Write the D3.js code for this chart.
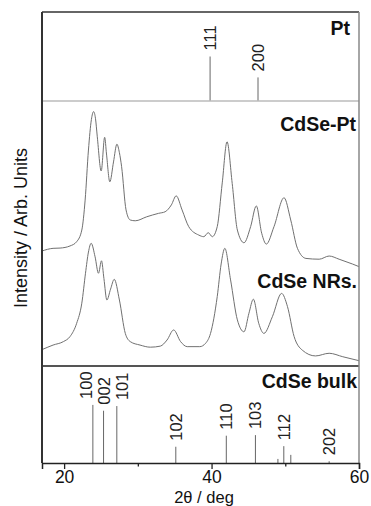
<!DOCTYPE html>
<html>
<head>
<meta charset="utf-8">
<script src="https://cdn.jsdelivr.net/npm/d3@7"></script>
<style>
  body { margin: 0; background: #fff; }
  text { font-family: "Liberation Sans", Arial, sans-serif; }
</style>
</head>
<body>
<div id="chart"></div>
<script>
// XRD patterns: Pt reference, CdSe-Pt, CdSe NRs, CdSe bulk reference

// Pt reference lines
const ptPos = [39.8, 46.3];
const ptInt = [100, 53];
const ptHkl = ["111", "200"];

// CdSe bulk reference lines ("" = no label)
const bulkPos = [23.9, 25.35, 27.15, 35.15, 42.0, 45.95, 49.0, 49.8, 50.75, 55.95];
const bulkInt = [100, 90, 98, 28, 47, 48, 7, 29, 14, 3];
const bulkHkl = ["100", "002", "101", "102", "110", "103", "", "112", "", "202"];

// CdSe-Pt pattern (offset curve, arb. units)
const cdsePtX = [17.0, 18.5, 19.45, 20.8, 21.7, 22.4, 22.85, 23.3, 23.7, 24.0, 24.25, 24.5, 25.03, 25.5, 25.75, 26.2,
  26.7, 27.16, 27.5, 27.8, 28.4, 28.97, 29.65, 31.2, 32.8, 33.7, 34.55, 35.2, 36.0, 36.9, 38.27, 38.95, 39.55,
  40.1, 40.77, 41.45, 42.1, 42.8, 43.5, 44.4, 45.3, 46.07, 46.8, 47.43, 48.47, 49.83, 50.74, 51.65, 52.8, 54.6,
  55.95, 57.3, 59.1, 60.0];
const cdsePtY = [43.4, 44.4, 44.5, 45.3, 46.9, 51.3, 62.6, 81.5, 93.0, 96.0, 93.5, 86.5, 73.6, 86.3, 80.0, 69.5,
  77.0, 83.7, 80.5, 75.2, 58.9, 55.1, 54.8, 56.3, 57.6, 58.2, 60.8, 64.2, 58.9, 52.6, 49.4, 48.8, 50.3,
  48.8, 52.6, 69.1, 84.6, 68.9, 51.3, 46.5, 52.6, 60.4, 50.1, 46.0, 52.6, 63.5, 55.1, 44.4, 40.6, 40.3,
  41.5, 40.3, 38.5, 37.5];

// CdSe NRs pattern
const nrsX = [17.1, 18.5, 19.9, 20.8, 21.7, 22.4, 22.9, 23.3, 23.67, 24.2, 24.66, 25.07, 25.4, 25.8, 26.3, 26.8,
  27.5, 28.3, 28.97, 30.3, 31.7, 33.05, 33.96, 34.86, 35.8, 36.7, 38.4, 39.2, 39.86, 40.77, 41.3, 41.8, 42.58,
  43.5, 44.4, 45.07, 45.67, 46.4, 47.1, 48.25, 49.5, 50.3, 51.2, 52.3, 54.1, 55.95, 57.8, 60.0];
const nrsY = [6.3, 7.9, 9.2, 11.1, 16.1, 23.7, 35.0, 43.0, 46.3, 41.2, 35.0, 39.7, 33.0, 24.9, 29.0, 32.7,
  24.9, 12.3, 9.2, 7.9, 7.1, 7.5, 9.8, 13.6, 9.2, 7.3, 7.3, 8.6, 12.3, 26.2, 38.5, 44.4, 32.5,
  17.4, 12.9, 19.9, 25.2, 16.1, 12.3, 18.6, 27.4, 22.4, 11.1, 6.0, 3.8, 4.8, 3.5, 2.0];

const xTicks = [20, 40, 60];
const xMinorTicks = [30, 50];

const W = 371, H = 506;
const plotLeft = 42, plotRight = 359;
const plotTop = 12, split1 = 101, split2 = 366, plotBottom = 463;

const svg = d3.select("#chart").append("svg")
    .attr("width", W)
    .attr("height", H);

const x = d3.scaleLinear().domain([17, 60]).range([plotLeft, plotRight]);
const yPt = d3.scaleLinear().domain([0, 200]).range([split1, plotTop]);
const yMid = d3.scaleLinear().domain([0, 100]).range([split2, split1]);
const yBulk = d3.scaleLinear().domain([0, 167]).range([plotBottom, split2]);

// spread labels so neighbours don't overlap
function spreadLabels(xs, minGap) {
    const p = xs.slice();
    for (let it = 0; it < 60; it++) {
        for (let i = 0; i < p.length - 1; i++) {
            const d = p[i + 1] - p[i];
            if (d < minGap) {
                const s = (minGap - d) / 2;
                p[i] -= s;
                p[i + 1] += s;
            }
        }
    }
    return p;
}

function stickPanel(pos, inten, hkl, yScale) {
    const g = svg.append("g");
    g.selectAll("line")
        .data(pos)
        .enter().append("line")
        .attr("x1", d => x(d))
        .attr("x2", d => x(d))
        .attr("y1", yScale(0))
        .attr("y2", (d, i) => yScale(inten[i]))
        .attr("stroke", "#666")
        .attr("stroke-width", 1);

    const labelled = pos.map((d, i) => ({ px: x(d), top: yScale(inten[i]), t: hkl[i] }))
        .filter(d => d.t !== "");
    const lx = spreadLabels(labelled.map(d => d.px), 18);
    g.selectAll("text")
        .data(labelled)
        .enter().append("text")
        .attr("transform", (d, i) => `translate(${lx[i] + 6},${d.top - 6}) rotate(-90)`)
        .attr("text-anchor", "start")
        .style("font-size", "16.5px")
        .style("fill", "#222")
        .text(d => d.t);
}

stickPanel(ptPos, ptInt, ptHkl, yPt);
stickPanel(bulkPos, bulkInt, bulkHkl, yBulk);

// measured patterns
const line = d3.line().curve(d3.curveMonotoneX);
[[cdsePtX, cdsePtY], [nrsX, nrsY]].forEach(([xs, ys]) => {
    svg.append("path")
        .attr("d", line(xs.map((d, i) => [x(d), yMid(ys[i])])))
        .attr("fill", "none")
        .attr("stroke", "#707070")
        .attr("stroke-width", 1);
});

// panel titles
const titles = [
    { t: "Pt", x: 350, y: 35 },
    { t: "CdSe-Pt", x: 356, y: 131 },
    { t: "CdSe NRs.", x: 357, y: 288 },
    { t: "CdSe bulk", x: 357, y: 388 }
];
svg.append("g").selectAll("text")
    .data(titles)
    .enter().append("text")
    .attr("x", d => d.x)
    .attr("y", d => d.y)
    .attr("text-anchor", "end")
    .style("font-size", "19.5px")
    .style("font-weight", "bold")
    .style("fill", "#111")
    .text(d => d.t);

// frame
const frame = svg.append("g");
frame.append("line").attr("x1", plotLeft).attr("x2", plotRight).attr("y1", plotTop).attr("y2", plotTop)
    .attr("stroke", "#333").attr("stroke-width", 1.5);
frame.append("line").attr("x1", plotLeft).attr("x2", plotRight).attr("y1", split1).attr("y2", split1)
    .attr("stroke", "#bbb").attr("stroke-width", 1.5);
frame.append("line").attr("x1", plotLeft).attr("x2", plotRight).attr("y1", split2).attr("y2", split2)
    .attr("stroke", "#555").attr("stroke-width", 2);
frame.append("line").attr("x1", plotRight).attr("x2", plotRight).attr("y1", plotTop).attr("y2", plotBottom)
    .attr("stroke", "#888").attr("stroke-width", 1.5);
frame.append("line").attr("x1", plotLeft).attr("x2", plotLeft).attr("y1", plotTop).attr("y2", plotBottom)
    .attr("stroke", "#333").attr("stroke-width", 2);

// x axis
const xAxis = svg.append("g")
    .attr("transform", `translate(0,${plotBottom})`)
    .call(d3.axisBottom(x).tickValues(xTicks).tickSize(6).tickPadding(2));
xAxis.select(".domain").attr("stroke", "#222").attr("stroke-width", 1.5);
xAxis.selectAll(".tick line").attr("stroke", "#222").attr("stroke-width", 1.3);
xAxis.selectAll(".tick text")
    .style("font-size", "17.5px")
    .style("font-family", "'Liberation Sans', Arial, sans-serif")
    .attr("fill", "#111");

svg.append("g")
    .attr("transform", `translate(0,${plotBottom})`)
    .call(d3.axisBottom(x).tickValues(xMinorTicks).tickSize(3.5).tickFormat(""))
    .call(g => g.select(".domain").remove())
    .selectAll(".tick line").attr("stroke", "#222").attr("stroke-width", 1.3);

// axis titles
svg.append("text")
    .attr("x", 204)
    .attr("y", 502.5)
    .attr("text-anchor", "middle")
    .style("font-size", "16.5px")
    .style("fill", "#111")
    .text("2θ / deg");

svg.append("text")
    .attr("transform", "translate(27,228) rotate(-90)")
    .attr("text-anchor", "middle")
    .style("font-size", "18px")
    .style("fill", "#111")
    .text("Intensity / Arb. Units");
</script>
</body>
</html>
